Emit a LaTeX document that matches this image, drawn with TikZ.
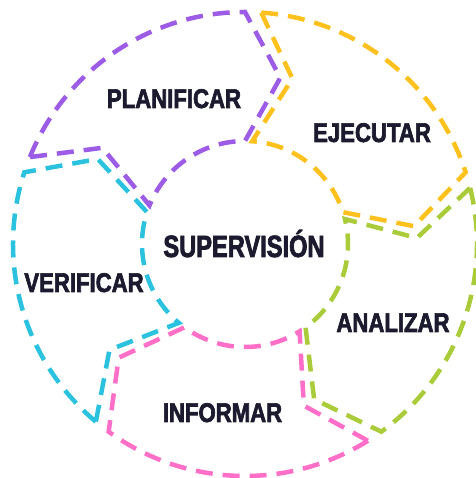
\documentclass[tikz,border=0pt]{standalone}
\usepackage{fontspec}
\newfontfamily\labfont[FakeStretch=0.82, BoldFeatures={FakeBold=2.4}]{Liberation Sans}
\newfontfamily\cenfont[FakeStretch=0.77, BoldFeatures={FakeBold=2.4}]{Liberation Sans}
\definecolor{cpurple}{HTML}{9D5CE6}
\definecolor{cyellow}{HTML}{FFC11E}
\definecolor{cgreen}{HTML}{AACC3A}
\definecolor{cpink}{HTML}{FF6FC8}
\definecolor{ccyan}{HTML}{2BC2DF}
\definecolor{ctext}{HTML}{1B1A2E}
\tikzset{
  segline/.style={line width=4.5pt, dash pattern=on 17pt off 10pt, line cap=butt, line join=miter},
  labtext/.style={anchor=base, inner sep=0pt, text=ctext, font=\labfont\bfseries\fontsize{27}{27}\selectfont},
  centext/.style={anchor=base, inner sep=0pt, text=ctext, font=\cenfont\bfseries\fontsize{30.7}{31}\selectfont}
}
\begin{document}
\begin{tikzpicture}[x=1pt,y=1pt]
\useasboundingbox (0,0) rectangle (475,478);
\begin{scope}[shift={(245,234)}]
\foreach \s/\col in {158/cpurple, 86/cyellow, 14/cgreen, -58/cpink, -130/ccyan}{
  \pgfmathsetmacro\e{\s-68}
  \pgfmathsetmacro\t{\s-80}
  \pgfmathsetmacro\n{\s-12}
  \draw[segline, draw=\col] (\s:232pt) arc[start angle=\s, end angle=\e, radius=232pt]
     -- (\t:170pt) -- (\e:103pt)
     arc[start angle=\e, end angle=\s, radius=103pt]
     -- (\n:172pt) -- cycle;
}
\end{scope}
\node[centext] (sup) at (244,221) {SUPERVISIÓN};
\node[labtext] (pla) at (174,370) {PLANIFICAR};
\node[labtext] (eje) at (372,336) {EJECUTAR};
\node[labtext] (ana) at (393,146) {ANALIZAR};
\node[labtext] (inf) at (222.5,56) {INFORMAR};
\node[labtext] (ver) at (84,186) {VERIFICAR};
\end{tikzpicture}
\end{document}
